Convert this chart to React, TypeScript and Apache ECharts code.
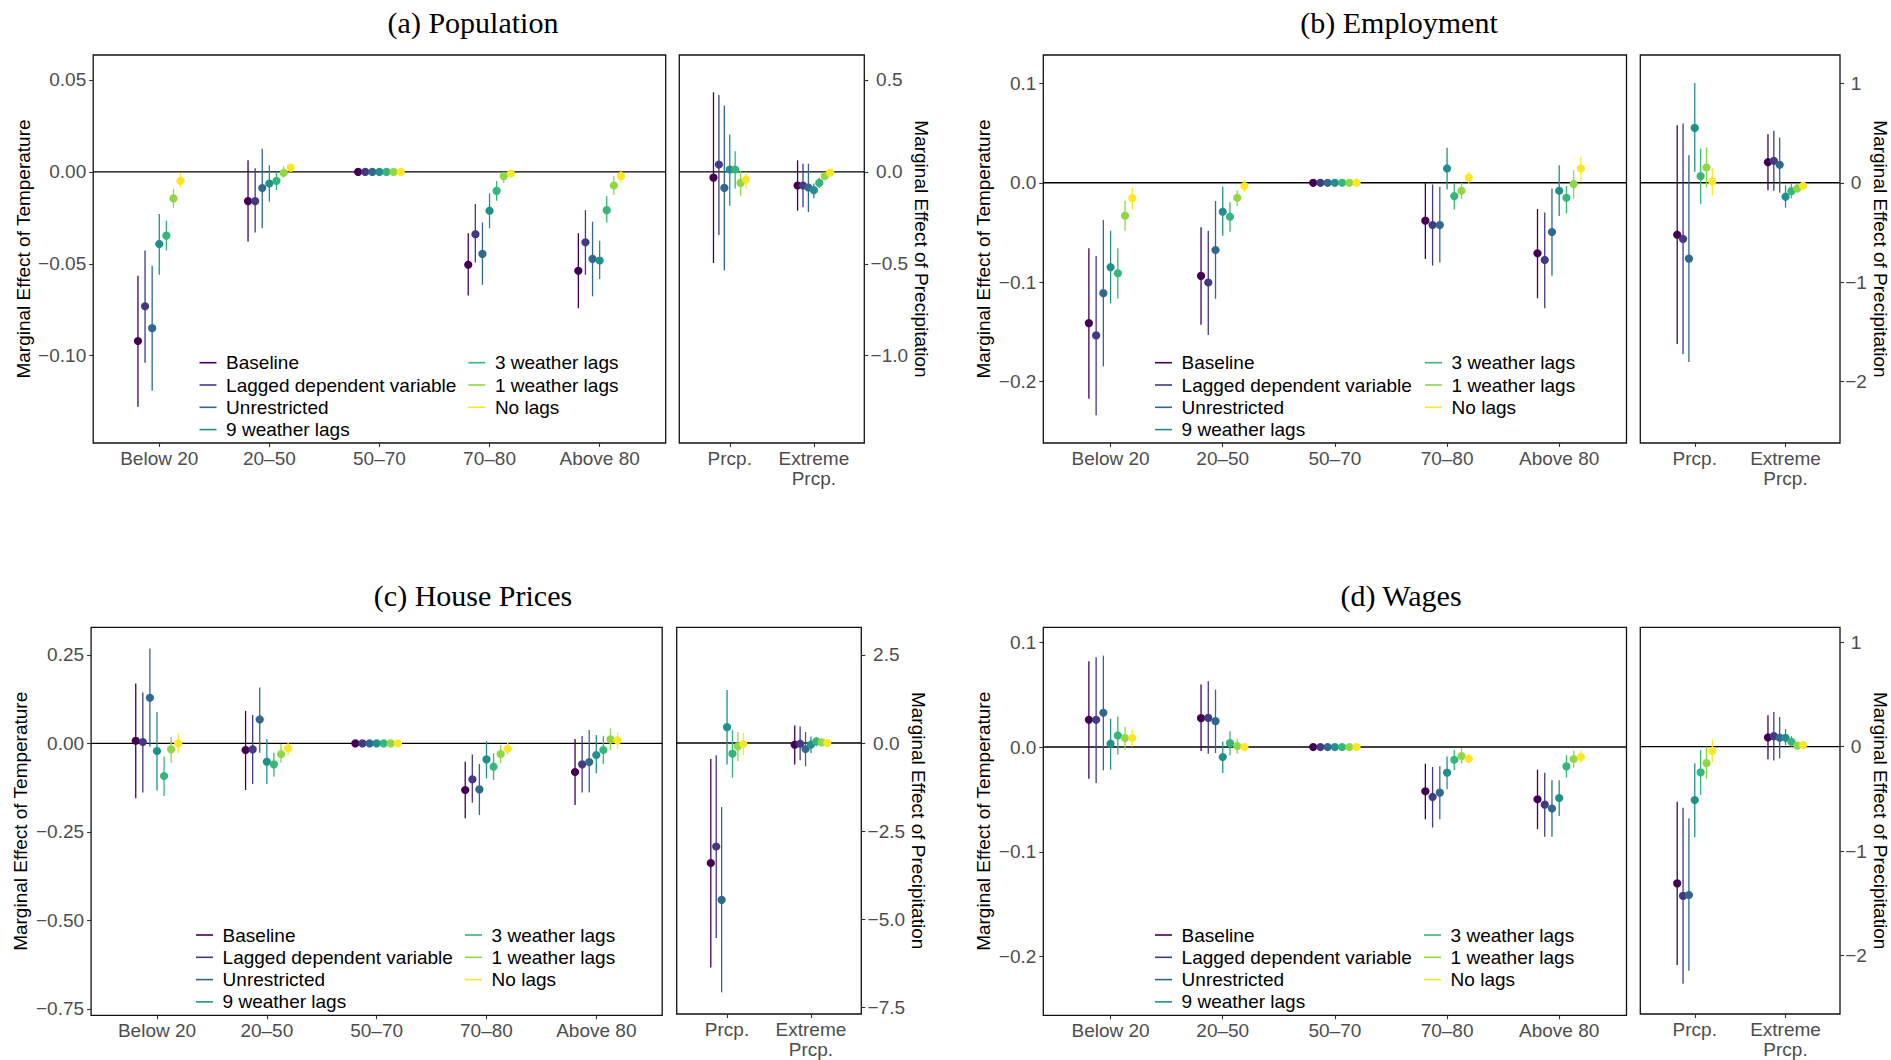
import React, { useEffect, useRef } from "react";
import * as echarts from "echarts";

// ---------------- DATA ----------------
const models = [
  "Baseline",
  "Lagged dependent variable",
  "Unrestricted",
  "9 weather lags",
  "3 weather lags",
  "1 weather lags",
  "No lags",
];
const modelColors = ["#440154", "#443A83", "#31688E", "#21908C", "#35B779", "#8FD744", "#FDE725"];

const tempCategories = ["Below 20", "20\u201350", "50\u201370", "70\u201380", "Above 80"];
const prcpCategories = ["Prcp.", "Extreme\nPrcp."];

// (a) Population — temperature (rows = models, cols = categories)
const popTempEst = [
  [-0.092, -0.0159, 0, -0.0505, -0.0538],
  [-0.0731, -0.0159, 0, -0.0334, -0.0383],
  [-0.085, -0.0088, 0, -0.0446, -0.0473],
  [-0.0392, -0.0063, 0, -0.0211, -0.0482],
  [-0.0347, -0.0049, 0, -0.0103, -0.0208],
  [-0.0144, 0.0, 0, -0.0023, -0.0074],
  [-0.0049, 0.0023, 0, -0.0009, -0.0023],
];
const popTempLo = [
  [-0.1278, -0.0379, 0, -0.0673, -0.0742],
  [-0.1038, -0.033, 0, -0.0493, -0.056],
  [-0.1191, -0.0307, 0, -0.0614, -0.0677],
  [-0.056, -0.0162, 0, -0.0307, -0.0583],
  [-0.0428, -0.0099, 0, -0.0157, -0.0276],
  [-0.0195, -0.003, 0, -0.006, -0.0126],
  [-0.0087, 0.0005, 0, -0.0027, -0.006],
];
const popTempHi = [
  [-0.0565, 0.0063, 0, -0.0334, -0.0334],
  [-0.0428, 0.002, 0, -0.0175, -0.0208],
  [-0.0511, 0.0126, 0, -0.0276, -0.0271],
  [-0.0229, 0.0036, 0, -0.0117, -0.0375],
  [-0.0265, 0.0, 0, -0.0049, -0.0132],
  [-0.0094, 0.003, 0, 0.0, -0.0023],
  [-0.0009, 0.004, 0, 0.0009, 0.0013],
];
// (a) Population — precipitation
const popPrcpEst = [
  [-0.031, -0.074], [0.04, -0.074], [-0.087, -0.085], [0.013, -0.099],
  [0.013, -0.06], [-0.06, -0.023], [-0.042, -0.004],
];
const popPrcpLo = [
  [-0.496, -0.211], [-0.343, -0.193], [-0.536, -0.218], [-0.184, -0.144],
  [-0.09, -0.087], [-0.13, -0.042], [-0.09, -0.014],
];
const popPrcpHi = [
  [0.433, 0.063], [0.419, 0.045], [0.361, 0.045], [0.204, -0.063],
  [0.112, -0.032], [0.004, -0.005], [0.0, 0.009],
];

// (b) Employment — temperature
const empTempEst = [
  [-0.1411, -0.0936, 0, -0.0381, -0.0709],
  [-0.1535, -0.1003, 0, -0.0425, -0.0776],
  [-0.111, -0.0676, 0, -0.0425, -0.0495],
  [-0.0849, -0.0291, 0, 0.0144, -0.008],
  [-0.091, -0.0341, 0, -0.0134, -0.0151],
  [-0.0331, -0.0151, 0, -0.008, -0.0013],
  [-0.0154, -0.0033, 0, 0.005, 0.0144],
];
const empTempLo = [
  [-0.2171, -0.1428, 0, -0.0766, -0.1161],
  [-0.2338, -0.1532, 0, -0.0833, -0.1261],
  [-0.1846, -0.1167, 0, -0.0803, -0.0936],
  [-0.1211, -0.0532, 0, -0.0067, -0.0334],
  [-0.1164, -0.0492, 0, -0.0268, -0.0308],
  [-0.0482, -0.0234, 0, -0.0167, -0.0157],
  [-0.0268, -0.009, 0, -0.0007, 0.002],
];
const empTempHi = [
  [-0.0659, -0.0448, 0, 0.0, -0.0264],
  [-0.0736, -0.0482, 0, -0.0017, -0.0298],
  [-0.0375, -0.0184, 0, -0.004, -0.0057],
  [-0.0482, -0.004, 0, 0.0351, 0.0177],
  [-0.0659, -0.0197, 0, -0.0007, -0.0033],
  [-0.0181, -0.0074, 0, 0.0, 0.0127],
  [-0.0047, 0.0027, 0, 0.011, 0.0261],
];
// (b) Employment — precipitation
const empPrcpEst = [
  [-0.522, 0.207], [-0.565, 0.221], [-0.763, 0.181], [0.552, -0.14],
  [0.067, -0.084], [0.154, -0.057], [0.013, -0.03],
];
const empPrcpLo = [
  [-1.622, -0.074], [-1.722, -0.08], [-1.803, -0.1], [0.11, -0.251],
  [-0.214, -0.157], [-0.047, -0.1], [-0.127, -0.06],
];
const empPrcpHi = [
  [0.579, 0.488], [0.595, 0.522], [0.278, 0.455], [1.003, -0.027],
  [0.344, -0.013], [0.355, -0.013], [0.147, 0.0],
];

// (c) House Prices — temperature
const houseTempEst = [
  [0.0075, -0.0188, 0, -0.1316, -0.0808],
  [0.0038, -0.0169, 0, -0.0987, -0.0592],
  [0.1288, 0.0677, 0, -0.1297, -0.0526],
  [-0.0216, -0.0517, 0, -0.0451, -0.0329],
  [-0.0921, -0.0592, 0, -0.0658, -0.0188],
  [-0.0169, -0.0282, 0, -0.0301, 0.0113],
  [0.0, -0.0141, 0, -0.015, 0.0085],
];
const houseTempLo = [
  [-0.155, -0.1316, 0, -0.2115, -0.1739],
  [-0.139, -0.1147, 0, -0.1673, -0.139],
  [-0.0094, -0.0263, 0, -0.2021, -0.139],
  [-0.133, -0.1147, 0, -0.0987, -0.0846],
  [-0.1485, -0.094, 0, -0.1034, -0.0583],
  [-0.0545, -0.0545, 0, -0.0564, -0.0188],
  [-0.028, -0.0329, 0, -0.031, -0.0169],
];
const houseTempHi = [
  [0.169, 0.092, 0, -0.0517, 0.0122],
  [0.144, 0.08, 0, -0.031, 0.0207],
  [0.268, 0.158, 0, -0.0583, 0.0376],
  [0.089, 0.0122, 0, 0.0066, 0.0235],
  [-0.0376, -0.0263, 0, -0.0282, 0.0207],
  [0.0188, -0.0019, 0, -0.0047, 0.0423],
  [0.028, 0.0047, 0, 0.0019, 0.031],
];
// (c) House Prices — precipitation
const housePrcpEst = [
  [-3.402, -0.047], [-2.932, -0.019], [-4.445, -0.169], [0.451, -0.047],
  [-0.301, 0.047], [-0.094, 0.019], [-0.028, 0.0],
];
const housePrcpLo = [
  [-6.363, -0.611], [-5.526, -0.489], [-7.068, -0.658], [-0.611, -0.282],
  [-0.987, -0.094], [-0.517, -0.075], [-0.329, -0.066],
];
const housePrcpHi = [
  [-0.451, 0.498], [-0.348, 0.47], [-1.814, 0.31], [1.504, 0.188],
  [0.376, 0.169], [0.31, 0.113], [0.282, 0.066],
];

// (d) Wages — temperature
const wageTempEst = [
  [0.026, 0.0276, 0, -0.0422, -0.0498],
  [0.026, 0.0279, 0, -0.0476, -0.0549],
  [0.0327, 0.0248, 0, -0.0435, -0.0587],
  [0.0032, -0.0095, 0, -0.0244, -0.0486],
  [0.0111, 0.0038, 0, -0.0121, -0.0184],
  [0.0086, 0.001, 0, -0.0086, -0.0114],
  [0.0086, 0.0, 0, -0.0111, -0.0095],
];
const wageTempLo = [
  [-0.0302, -0.0038, 0, -0.0689, -0.0784],
  [-0.0343, -0.0063, 0, -0.0768, -0.0857],
  [-0.0222, -0.0057, 0, -0.0689, -0.0857],
  [-0.0216, -0.0248, 0, -0.0403, -0.0657],
  [-0.007, -0.0079, 0, -0.0222, -0.0292],
  [-0.0025, -0.0063, 0, -0.0159, -0.0197],
  [0.0006, -0.0041, 0, -0.0152, -0.0149],
];
const wageTempHi = [
  [0.0819, 0.0597, 0, -0.0159, -0.0216],
  [0.0857, 0.0629, 0, -0.019, -0.0244],
  [0.0873, 0.0549, 0, -0.0184, -0.0317],
  [0.027, 0.0054, 0, -0.0089, -0.0317],
  [0.0292, 0.0152, 0, -0.0025, -0.0079],
  [0.0197, 0.0079, 0, -0.001, -0.0032],
  [0.0168, 0.0038, 0, -0.0063, -0.0032],
];
// (d) Wages — precipitation
const wagePrcpEst = [
  [-1.309, 0.088], [-1.429, 0.101], [-1.42, 0.085], [-0.511, 0.085],
  [-0.246, 0.047], [-0.158, 0.009], [-0.041, 0.016],
];
const wagePrcpLo = [
  [-2.091, -0.12], [-2.271, -0.132], [-2.145, -0.114], [-0.868, 0.016],
  [-0.464, 0.0], [-0.306, -0.016], [-0.148, -0.016],
];
const wagePrcpHi = [
  [-0.527, 0.3], [-0.584, 0.331], [-0.685, 0.284], [-0.158, 0.167],
  [-0.032, 0.101], [0.0, 0.044], [0.069, 0.047],
];

// tick labels
const popTempTicks = [0.05, 0, -0.05, -0.1];
const popPrcpTicks = [0.5, 0, -0.5, -1.0];
const empTempTicks = [0.1, 0, -0.1, -0.2];
const empPrcpTicks = [1, 0, -1, -2];
const houseTempTicks = [0.25, 0, -0.25, -0.5, -0.75];
const housePrcpTicks = [2.5, 0, -2.5, -5, -7.5];
const wageTempTicks = [0.1, 0, -0.1, -0.2];
const wagePrcpTicks = [1, 0, -1, -2];

// ---------------- LAYOUT / STYLE ----------------
const SANS = "'Liberation Sans', Arial, Helvetica, sans-serif";
const SERIF = "'Liberation Serif', 'Times New Roman', serif";
const DODGE = 0.0645;
const FS = 19;

const panels = [
  {
    title: "(a) Population", titleX: 473, titleY: 22,
    top: 55, bottom: 443, tl: 93.2, tr: 665.7, pl: 679.3, pr: 864.3,
    tEst: popTempEst, tLo: popTempLo, tHi: popTempHi, tTicks: popTempTicks, tMin: -0.1475, tMax: 0.0636, tDec: 2,
    pEst: popPrcpEst, pLo: popPrcpLo, pHi: popPrcpHi, pTicks: popPrcpTicks, pMin: -1.475, pMax: 0.636, pDec: 1,
    leftNameGap: 60.5, rightLabelMargin: 25, rightNameGap: 44,
    leg1X: 199.5, leg2X: 468.3, legY: 362.7,
  },
  {
    title: "(b) Employment", titleX: 1399, titleY: 22,
    top: 55, bottom: 443, tl: 1043.3, tr: 1626.5, pl: 1640.3, pr: 1841,
    tEst: empTempEst, tLo: empTempLo, tHi: empTempHi, tTicks: empTempTicks, tMin: -0.2617, tMax: 0.1285, tDec: 1,
    pEst: empPrcpEst, pLo: empPrcpLo, pHi: empPrcpHi, pTicks: empPrcpTicks, pMin: -2.617, pMax: 1.285, pDec: 0,
    leftNameGap: 50.8, rightLabelMargin: 16, rightNameGap: 31,
    leg1X: 1155, leg2X: 1425, legY: 362.7,
  },
  {
    title: "(c) House Prices", titleX: 473, titleY: 595,
    top: 627.3, bottom: 1015.3, tl: 91.1, tr: 662.2, pl: 676.7, pr: 861.3,
    tEst: houseTempEst, tLo: houseTempLo, tHi: houseTempHi, tTicks: houseTempTicks, tMin: -0.768, tMax: 0.328, tDec: 2,
    pEst: housePrcpEst, pLo: housePrcpLo, pHi: housePrcpHi, pTicks: housePrcpTicks, pMin: -7.68, pMax: 3.28, pDec: 1,
    leftNameGap: 60.7, rightLabelMargin: 25, rightNameGap: 47,
    leg1X: 196, leg2X: 465, legY: 935,
  },
  {
    title: "(d) Wages", titleX: 1401, titleY: 595,
    top: 627.3, bottom: 1015.3, tl: 1043.3, tr: 1626.5, pl: 1640.3, pr: 1841,
    tEst: wageTempEst, tLo: wageTempLo, tHi: wageTempHi, tTicks: wageTempTicks, tMin: -0.256, tMax: 0.1143, tDec: 1,
    pEst: wagePrcpEst, pLo: wagePrcpLo, pHi: wagePrcpHi, pTicks: wagePrcpTicks, pMin: -2.56, pMax: 1.143, pDec: 0,
    leftNameGap: 50.8, rightLabelMargin: 16, rightNameGap: 31,
    leg1X: 1155, leg2X: 1424, legY: 935,
  },
];

const fmt = (v: number, d: number) => {
  const s = Math.abs(v).toFixed(d);
  return (v < -1e-9 ? "\u2212" : "") + s;
};

function buildOption() {
  const grid: any[] = [];
  const xAxis: any[] = [];
  const yAxis: any[] = [];
  const series: any[] = [];
  const legend: any[] = [];
  const graphic: any[] = [];
  let gi = 0;

  panels.forEach((p) => {
    graphic.push({
      type: "text",
      x: p.titleX,
      y: p.titleY,
      style: {
        text: p.title,
        fontFamily: SERIF,
        fontSize: 30,
        fill: "#000",
        align: "center",
        verticalAlign: "middle",
      },
    });

    const subplots = [
      { side: "left", l: p.tl, r: p.tr, cats: tempCategories, est: p.tEst, lo: p.tLo, hi: p.tHi, ticks: p.tTicks, min: p.tMin, max: p.tMax, dec: p.tDec },
      { side: "right", l: p.pl, r: p.pr, cats: prcpCategories, est: p.pEst, lo: p.pLo, hi: p.pHi, ticks: p.pTicks, min: p.pMin, max: p.pMax, dec: p.pDec },
    ];

    subplots.forEach((sp) => {
      const n = sp.cats.length;
      const idx = sp.cats.map((_, i) => i);
      grid.push({
        left: sp.l,
        top: p.top,
        width: sp.r - sp.l,
        height: p.bottom - p.top,
        show: true,
        borderColor: "#111",
        borderWidth: 1.3,
        backgroundColor: "transparent",
      });
      xAxis.push({
        type: "value",
        gridIndex: gi,
        min: -0.6,
        max: n - 0.4,
        axisLine: { show: false, onZero: false },
        splitLine: { show: false },
        axisTick: { show: true, length: 4, lineStyle: { color: "#333", width: 1.1 }, customValues: idx },
        axisLabel: {
          customValues: idx,
          formatter: (v: number) => sp.cats[Math.round(v)],
          fontSize: FS,
          fontFamily: SANS,
          color: "#4d4d4d",
          margin: 5,
          lineHeight: 20.5,
        },
      });
      const isLeft = sp.side === "left";
      yAxis.push({
        type: "value",
        gridIndex: gi,
        position: sp.side,
        min: sp.min,
        max: sp.max,
        axisLine: { show: false, onZero: false },
        splitLine: { show: false },
        axisTick: { show: true, length: 4, lineStyle: { color: "#333", width: 1.1 }, customValues: sp.ticks },
        axisLabel: {
          customValues: sp.ticks,
          formatter: (v: number) => fmt(v, sp.dec),
          fontSize: FS,
          fontFamily: SANS,
          color: "#4d4d4d",
          margin: isLeft ? 7 : p.rightLabelMargin,
          align: isLeft ? "right" : "center",
        },
        name: isLeft ? "Marginal Effect of Temperature" : "Marginal Effect of Precipitation",
        nameLocation: "middle",
        nameRotate: isLeft ? 90 : -90,
        nameGap: isLeft ? p.leftNameGap : p.rightNameGap,
        nameTextStyle: { fontSize: FS, fontFamily: SANS, color: "#000" },
      });

      // zero reference line
      series.push({
        type: "line",
        name: "zero",
        xAxisIndex: gi,
        yAxisIndex: gi,
        data: [[-0.6, 0], [n - 0.4, 0]],
        symbol: "none",
        silent: true,
        lineStyle: { color: "#000", width: 1.4 },
        z: 1,
      });

      models.forEach((m, mi) => {
        const color = modelColors[mi];
        const off = (mi - 3) * DODGE;
        const data = sp.cats.map((_, ci) => [ci, sp.est[mi][ci], sp.lo[mi][ci], sp.hi[mi][ci]]);
        series.push({
          type: "custom",
          name: m,
          coordinateSystem: "cartesian2d",
          xAxisIndex: gi,
          yAxisIndex: gi,
          encode: { x: 0, y: 1 },
          itemStyle: { color },
          z: 2,
          data,
          renderItem: (params: any, api: any) => {
            const x = api.value(0) + off;
            const pE = api.coord([x, api.value(1)]);
            const pL = api.coord([x, api.value(2)]);
            const pH = api.coord([x, api.value(3)]);
            return {
              type: "group",
              children: [
                {
                  type: "line",
                  shape: { x1: pL[0], y1: pL[1], x2: pH[0], y2: pH[1] },
                  style: { stroke: color, lineWidth: 1.3 },
                },
                {
                  type: "circle",
                  shape: { cx: pE[0], cy: pE[1], r: 4.1 },
                  style: { fill: color },
                },
              ],
            };
          },
        });
      });
      gi++;
    });

    const legCommon = {
      orient: "vertical",
      padding: 0,
      itemWidth: 17,
      itemHeight: 1.6,
      itemGap: 3.3,
      selectedMode: false,
      textStyle: { fontSize: FS, fontFamily: SANS, color: "#000", lineHeight: 19, padding: [0, 0, 0, 4.6] },
    };
    legend.push({
      ...legCommon,
      left: p.leg1X,
      top: p.legY - 9.5,
      data: models.slice(0, 4).map((m, i) => ({ name: m, icon: "rect", itemStyle: { color: modelColors[i] } })),
    });
    legend.push({
      ...legCommon,
      left: p.leg2X,
      top: p.legY - 9.5,
      data: models.slice(4).map((m, i) => ({ name: m, icon: "rect", itemStyle: { color: modelColors[i + 4] } })),
    });
  });

  return {
    animation: false,
    backgroundColor: "#fff",
    grid,
    xAxis,
    yAxis,
    series,
    legend,
    graphic,
  };
}

export default function App() {
  const ref = useRef<HTMLDivElement>(null);
  useEffect(() => {
    if (!ref.current) return;
    const chart = echarts.init(ref.current, null, { renderer: "svg", width: 1891, height: 1060 });
    chart.setOption(buildOption() as any);
    return () => chart.dispose();
  }, []);
  return (
    <div
      ref={ref}
      style={{ position: "absolute", left: 0, top: 0, width: 1891, height: 1060, background: "#fff" }}
    />
  );
}
